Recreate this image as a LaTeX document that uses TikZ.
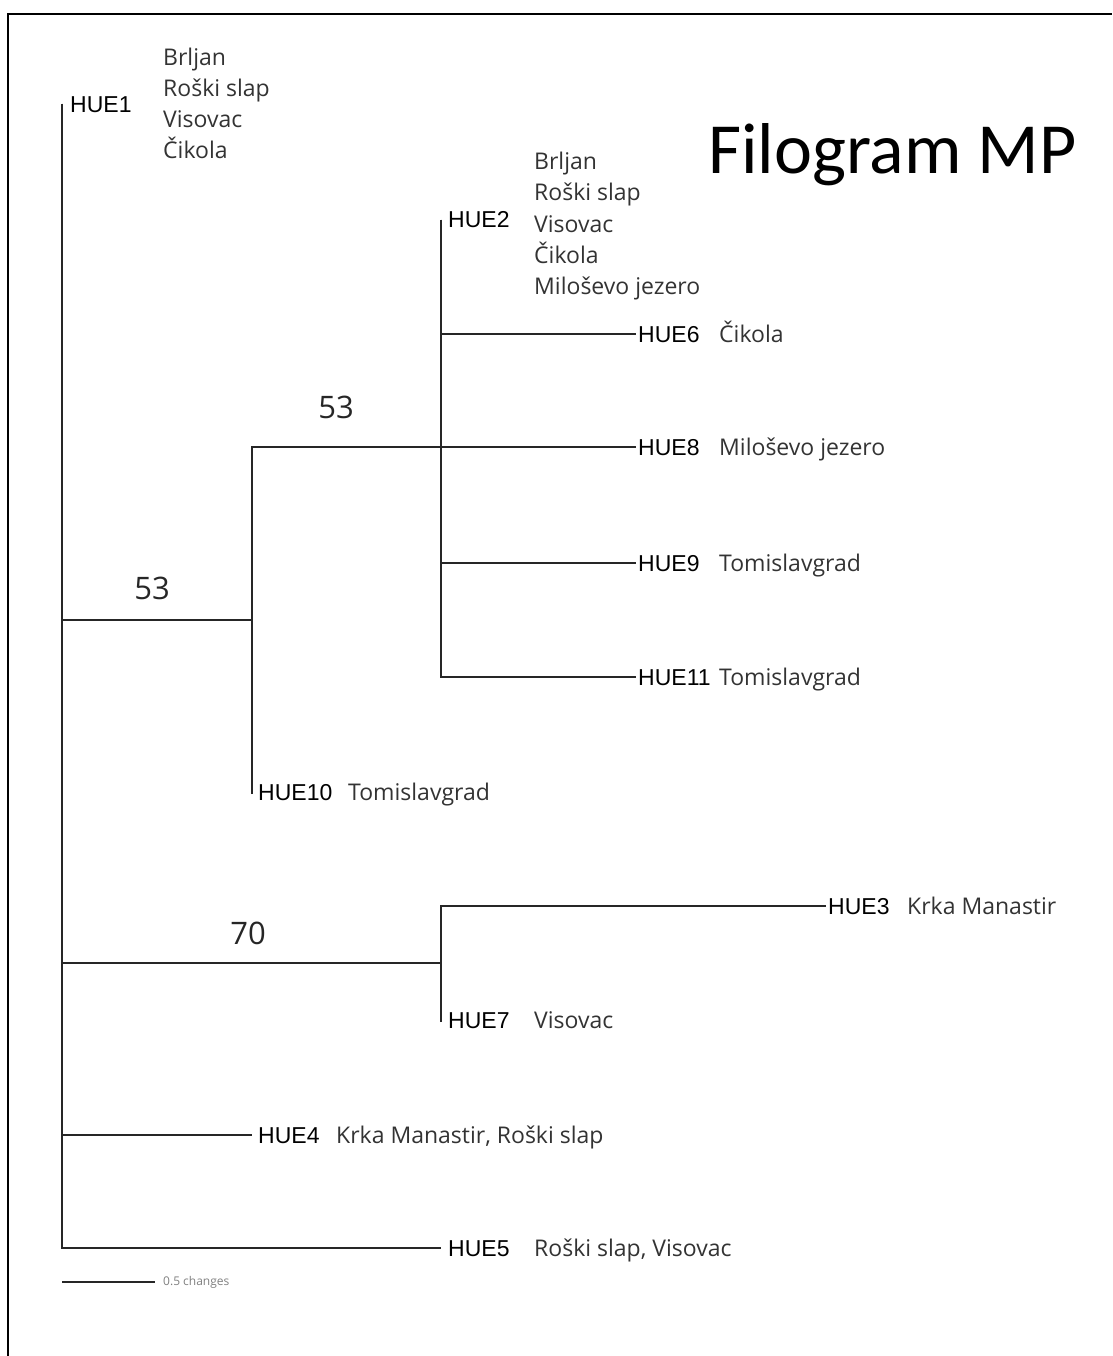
\documentclass[tikz,border=0pt]{standalone}
\usepackage{fontspec}
\setmainfont{Open Sans}
\newfontfamily\huefont{Liberation Sans}
\newfontfamily\titlefont{Carlito}
\tikzset{
    branch/.style={line width=1.5pt, black!85},
    hue/.style={anchor=base west, inner sep=0pt, font=\huefont\fontsize{23}{26}\selectfont},
    place/.style={anchor=base west, inner sep=0pt, align=left, black!80, font=\fontsize{23}{31}\selectfont},
    support/.style={inner sep=0pt, black!85, font=\fontsize{31}{36}\selectfont}
}

\begin{document}
\begin{tikzpicture}[x=1pt,y=-1pt]
    \useasboundingbox (0,0) rectangle (1112,1356);
    % frame
    \draw[line width=2.2pt] (8,1356) -- (8,14) -- (1112,14);
    \node[anchor=base west, inner sep=0pt, font=\titlefont\fontsize{72}{80}\selectfont] (title) at (708,174) {Filogram MP};
    % tips and inner nodes
    \coordinate (t1) at (62,104);
    \coordinate (t2) at (441,220);
    \coordinate (t3) at (826,906);
    \coordinate (t4) at (252,1135);
    \coordinate (t5) at (441,1248);
    \coordinate (t6) at (636,334);
    \coordinate (t7) at (441,1022);
    \coordinate (t8) at (636,447);
    \coordinate (t9) at (636,563);
    \coordinate (t10) at (252,794);
    \coordinate (t11) at (636,677);
    \coordinate (nA) at (252,620);
    \coordinate (nB) at (441,963);
    \coordinate (nC) at (441,447);
    % branches
    \draw[branch] (t1) |- (t5);
    \draw[branch] (t1) |- (nA);
    \draw[branch] (t1) |- (nB);
    \draw[branch] (t1) |- (t4);
    \draw[branch] (t10) |- (nC);
    \draw[branch] (t2) |- (t11);
    \foreach \t in {t6,t8,t9}
        \draw[branch] (t2) |- (\t);
    \draw[branch] (t7) |- (t3);
    % support values
    \node[support] (bA) at (152,588) {53};
    \node[support] (bC) at (336,407) {53};
    \node[support] (bB) at (248,933) {70};
    % haplotypes
    \node[hue] (h1) at ([shift={(8,9)}]t1) {HUE1};
    \node[hue] (h2) at ([shift={(7,8)}]t2) {HUE2};
    \node[hue] (h3) at ([shift={(2,8)}]t3) {HUE3};
    \node[hue] (h4) at ([shift={(6,8)}]t4) {HUE4};
    \node[hue] (h5) at ([shift={(7,8)}]t5) {HUE5};
    \node[hue] (h6) at ([shift={(2,8)}]t6) {HUE6};
    \node[hue] (h7) at ([shift={(7,6)}]t7) {HUE7};
    \node[hue] (h8) at ([shift={(2,8)}]t8) {HUE8};
    \node[hue] (h9) at ([shift={(2,8)}]t9) {HUE9};
    \node[hue] (h10) at ([shift={(6,6)}]t10) {HUE10};
    \node[hue] (h11) at ([shift={(2,8)}]t11) {HUE11};
    % localities (base = last line)
    \node[place] (p1) at (163,159) {Brljan\\Roški slap\\Visovac\\Čikola};
    \node[place] (p2) at (534,294) {Brljan\\Roški slap\\Visovac\\Čikola\\Miloševo jezero};
    \node[place] (p3) at (907,914) {Krka Manastir};
    \node[place] (p4) at (336,1143) {Krka Manastir, Roški slap};
    \node[place] (p5) at (534,1256) {Roški slap, Visovac};
    \node[place] (p6) at (719,342) {Čikola};
    \node[place] (p7) at (534,1028) {Visovac};
    \node[place] (p8) at (719,455) {Miloševo jezero};
    \node[place] (p9) at (719,571) {Tomislavgrad};
    \node[place] (p10) at (348,800) {Tomislavgrad};
    \node[place] (p11) at (719,685) {Tomislavgrad};
    % scale bar
    \coordinate (s0) at (62,1282);
    \coordinate (s1) at (155,1282);
    \draw[branch] (s0) -- (s1);
    \node[anchor=west, inner sep=0pt, gray, font=\fontsize{12}{14}\selectfont] (scale) at ([xshift=8]s1) {0.5 changes};
\end{tikzpicture}
\end{document}
